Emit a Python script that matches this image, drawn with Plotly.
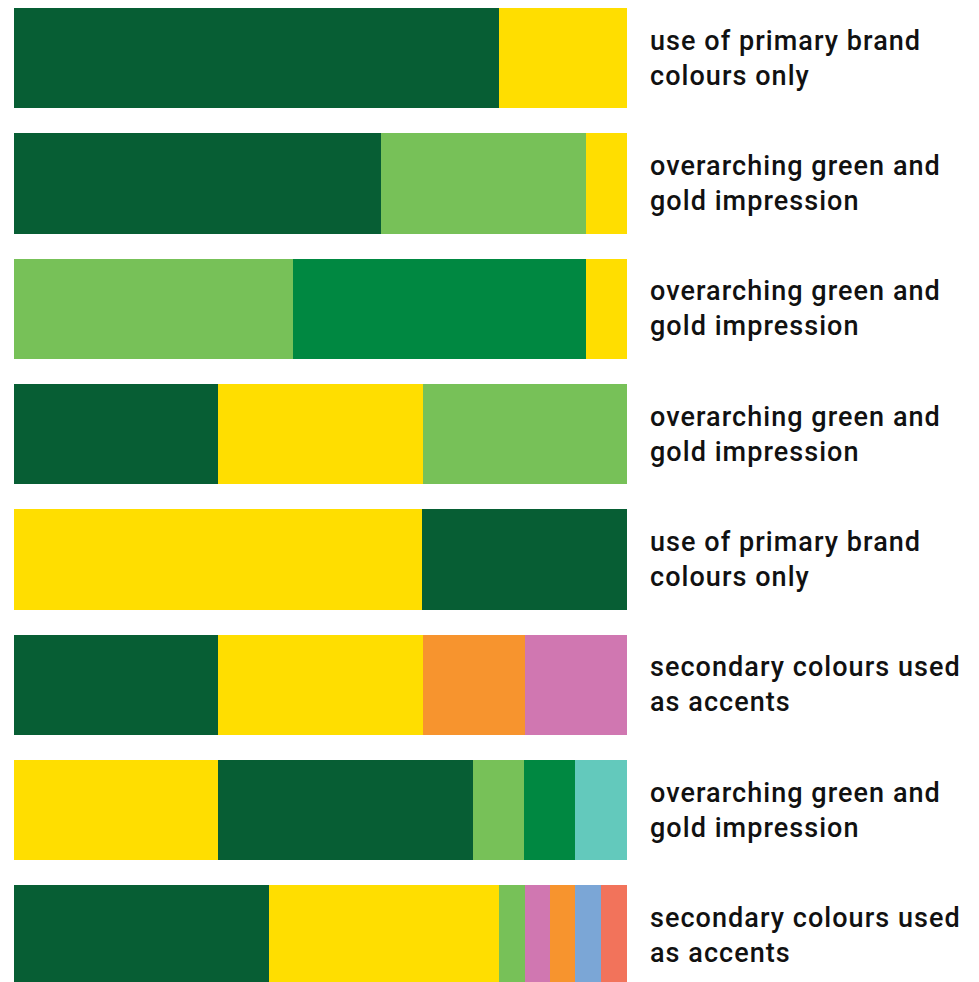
import plotly.graph_objects as go

# Row labels (top to bottom)
labels = [
    ["use of primary brand", "colours only"],
    ["overarching green and", "gold impression"],
    ["overarching green and", "gold impression"],
    ["overarching green and", "gold impression"],
    ["use of primary brand", "colours only"],
    ["secondary colours used", "as accents"],
    ["overarching green and", "gold impression"],
    ["secondary colours used", "as accents"],
]

# Palette
DG = "#075E34"   # dark green
YE = "#FFDE00"   # gold / yellow
LG = "#77C158"   # light green
MG = "#008841"   # mid green
OR = "#F7942E"   # orange
PK = "#D077B1"   # pink
TE = "#63C9BC"   # teal
BL = "#7BA6D6"   # blue
SA = "#F2735B"   # salmon

# Segment values (percent of bar) per row, left to right
row1 = [79.1, 20.9]
row2 = [59.9, 33.4, 6.7]
row3 = [45.5, 47.8, 6.7]
row4 = [33.3, 33.4, 33.3]
row5 = [66.6, 33.4]
row6 = [33.3, 33.4, 16.65, 16.65]
row7 = [33.3, 41.6, 8.3, 8.3, 8.5]
row8 = [41.6, 37.5, 4.2, 4.1, 4.1, 4.2, 4.3]

# Segment colours per row
col1 = [DG, YE]
col2 = [DG, LG, YE]
col3 = [LG, MG, YE]
col4 = [DG, YE, LG]
col5 = [YE, DG]
col6 = [DG, YE, OR, PK]
col7 = [YE, DG, LG, MG, TE]
col8 = [DG, YE, LG, PK, OR, BL, SA]

values = [row1, row2, row3, row4, row5, row6, row7, row8]
colors = [col1, col2, col3, col4, col5, col6, col7, col8]

n_rows = len(values)
positions = list(range(n_rows))
max_segs = max(len(v) for v in values)

fig = go.Figure()
for s in range(max_segs):
    xs = [v[s] if s < len(v) else 0 for v in values]
    cs = [c[s] if s < len(c) else "rgba(0,0,0,0)" for c in colors]
    fig.add_trace(go.Bar(
        x=xs, y=positions, orientation="h",
        marker=dict(color=cs, line=dict(width=0)),
        width=0.8, showlegend=False, hoverinfo="skip",
    ))

SP = "letter-spacing:1.05px"
for i, lab in enumerate(labels):
    text = "<br>".join(f'<span style="{SP}">{ln}</span>' for ln in lab)
    fig.add_annotation(
        x=1, xref="paper", y=positions[i], yref="y",
        xanchor="left", yanchor="middle", xshift=21,
        text=text, showarrow=False, align="left",
        font=dict(family="Roboto", size=27, color="#111111", weight=500),
    )

fig.update_layout(
    width=979, height=982,
    margin=dict(l=14, r=352, t=0, b=0),
    barmode="stack",
    paper_bgcolor="white", plot_bgcolor="white",
    xaxis=dict(range=[0, 100], visible=False, fixedrange=True),
    yaxis=dict(range=[7.372, -0.4653], visible=False, fixedrange=True),
)

fig.write_html("out.html", config={"displayModeBar": False},
               post_script="document.body.style.margin='0';")
